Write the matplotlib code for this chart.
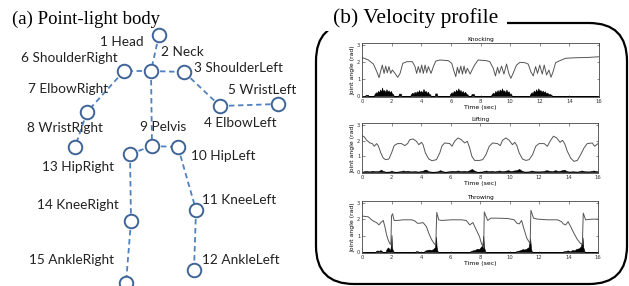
import matplotlib.pyplot as plt
from matplotlib.patches import FancyBboxPatch, Rectangle

W, H = 629, 286

# skeleton joints (pixel coordinates of the diagram)
joint_names = ["1 Head", "2 Neck", "3 ShoulderLeft", "4 ElbowLeft", "5 WristLeft",
               "6 ShoulderRight", "7 ElbowRight", "8 WristRight", "9 Pelvis",
               "10 HipLeft", "11 KneeLeft", "12 AnkleLeft", "13 HipRight",
               "14 KneeRight", "15 AnkleRight"]
joint_x = [159, 151, 184, 220, 278, 124, 87, 75, 152, 178, 196, 194, 130, 131, 126]
joint_y = [35, 71, 72, 106, 104, 71, 112, 147, 146, 147, 210, 270, 154, 221, 283]
bones = [(0, 1), (1, 5), (1, 2), (2, 3), (3, 4), (5, 6), (6, 7), (1, 8),
         (8, 9), (8, 12), (12, 13), (13, 14), (9, 10), (10, 11)]
label_x = [100, 161, 194, 204, 228, 21, 28, 27, 140, 191, 202, 202, 42, 37, 29]
label_y = [42, 52, 68, 123, 90, 58, 89, 128, 127, 156, 200, 260, 167, 205, 260]

# Knocking
knock_t = [0, 0.43, 0.77, 1.0, 1.15, 1.28, 1.37, 1.49, 1.6, 1.71, 1.82, 1.94, 2.05,
           2.23, 2.41, 2.57, 2.75, 3.02, 3.4, 3.58, 3.69, 3.8, 3.92, 4.03, 4.14,
           4.26, 4.37, 4.48, 4.66, 4.82, 4.98, 5.27, 5.83, 6.06, 6.22, 6.33, 6.44,
           6.55, 6.67, 6.78, 6.89, 7.0, 7.11, 7.3, 7.45, 7.6, 7.84, 8.4, 8.63,
           8.86, 9.01, 9.15, 9.26, 9.42, 9.58, 9.76, 9.91, 10.05, 10.2, 10.43,
           10.66, 11.0, 11.22, 11.4, 11.56, 11.72, 11.85, 12.0, 12.17, 12.3,
           12.46, 12.62, 12.76, 12.9, 13.07, 13.36, 13.74, 14.37, 15.27, 16.0]
knock_angle = [2.27, 2.12, 1.88, 1.43, 1.08, 1.53, 1.82, 1.33, 1.76, 1.37, 1.73,
               1.33, 1.53, 1.33, 1.1, 1.33, 1.92, 2.02, 2.02, 1.73, 1.33, 1.73,
               1.37, 1.82, 1.33, 1.82, 1.37, 1.73, 1.33, 1.73, 2.06, 2.12, 2.08,
               1.92, 1.43, 1.14, 1.69, 1.33, 1.76, 1.29, 1.76, 1.33, 1.63, 1.29,
               1.57, 1.82, 2.12, 2.08, 2.02, 1.63, 1.18, 1.69, 1.33, 1.76, 1.29,
               1.88, 1.33, 1.04, 1.33, 1.82, 1.98, 1.96, 1.88, 1.43, 1.18, 1.73,
               1.33, 1.82, 1.29, 1.82, 1.24, 1.53, 1.1, 1.43, 1.96, 2.08, 2.22,
               2.25, 2.27, 2.31]
knock_vt = [0, 0.2, 0.25, 0.4, 0.45, 0.8, 0.85, 0.95, 1.0, 1.08, 1.15, 1.22, 1.3,
            1.35, 1.42, 1.5, 1.58, 1.65, 1.72, 1.8, 1.88, 1.95, 2.02, 2.1, 2.15,
            2.45, 2.5, 2.62, 2.67, 3.25, 3.3, 3.4, 3.48, 3.55, 3.62, 3.7, 3.78,
            3.85, 3.92, 4.0, 4.08, 4.15, 4.22, 4.3, 4.38, 4.45, 4.52, 4.6, 4.65,
            4.9, 4.95, 5.05, 5.1, 5.9, 5.95, 6.05, 6.12, 6.2, 6.28, 6.35, 6.42,
            6.5, 6.58, 6.65, 6.72, 6.8, 6.88, 6.95, 7.05, 7.12, 7.18, 7.35, 7.4,
            7.55, 7.6, 8.7, 8.75, 8.85, 8.92, 9.0, 9.08, 9.15, 9.22, 9.3, 9.38,
            9.45, 9.52, 9.6, 9.68, 9.75, 9.82, 9.9, 9.98, 10.05, 10.12, 11.3,
            11.35, 11.45, 11.52, 11.6, 11.68, 11.75, 11.82, 11.9, 11.98, 12.05,
            12.12, 12.2, 12.28, 12.35, 12.42, 12.5, 12.6, 12.7, 12.8, 12.85, 16.0]
knock_vel = [0, 0, 0.07, 0.07, 0, 0, 0.12, 0.22, 0.15, 0.3, 0.2, 0.38, 0.25, 0.5,
             0.28, 0.35, 0.22, 0.4, 0.25, 0.33, 0.2, 0.3, 0.15, 0.1, 0, 0, 0.14,
             0.14, 0, 0, 0.1, 0.2, 0.12, 0.25, 0.15, 0.28, 0.2, 0.35, 0.22, 0.3,
             0.2, 0.42, 0.25, 0.3, 0.18, 0.25, 0.12, 0.1, 0, 0, 0.15, 0.15, 0, 0,
             0.12, 0.22, 0.15, 0.3, 0.2, 0.38, 0.25, 0.45, 0.28, 0.35, 0.2, 0.3,
             0.15, 0.25, 0.12, 0.1, 0, 0, 0.12, 0.12, 0, 0, 0.1, 0.2, 0.12, 0.3,
             0.2, 0.35, 0.22, 0.38, 0.25, 0.45, 0.28, 0.33, 0.2, 0.38, 0.22, 0.28,
             0.12, 0.15, 0, 0, 0.1, 0.22, 0.15, 0.32, 0.2, 0.4, 0.25, 0.45, 0.3,
             0.35, 0.22, 0.32, 0.2, 0.28, 0.15, 0.2, 0.1, 0.12, 0.05, 0, 0]

# Lifting
lift_t = [0, 0.16, 0.32, 0.54, 0.7, 0.83, 0.99, 1.1, 1.28, 1.44, 1.6, 1.82, 2.0,
          2.18, 2.41, 2.68, 2.9, 3.09, 3.24, 3.47, 3.69, 3.85, 4.03, 4.14, 4.3,
          4.53, 4.75, 5.05, 5.27, 5.43, 5.61, 5.95, 6.1, 6.28, 6.51, 6.73, 6.96,
          7.14, 7.3, 7.45, 7.64, 7.97, 8.18, 8.4, 8.63, 8.86, 9.19, 9.37, 9.53,
          9.76, 9.98, 10.2, 10.36, 10.5, 10.66, 10.88, 11.11, 11.33, 11.56, 11.78,
          12.0, 12.35, 12.57, 12.75, 12.98, 13.2, 13.43, 13.59, 13.74, 13.92,
          14.15, 14.37, 14.6, 14.82, 15.05, 15.27, 15.61, 15.77, 16.0]
lift_angle = [2.32, 2.23, 2.02, 1.85, 1.81, 1.64, 1.81, 1.68, 1.21, 0.89, 0.79,
              0.83, 1.21, 1.68, 1.81, 1.81, 1.68, 1.81, 2.06, 2.1, 1.96, 1.74,
              1.89, 1.74, 1.21, 0.83, 0.72, 0.79, 1.21, 1.68, 1.85, 1.81, 1.64,
              1.96, 2.17, 2.06, 1.85, 1.96, 1.53, 1.0, 0.74, 0.74, 0.79, 1.1, 1.64,
              1.85, 1.81, 1.68, 2.02, 2.17, 2.02, 1.74, 1.89, 1.68, 1.21, 0.83,
              0.74, 0.79, 1.1, 1.64, 1.81, 1.81, 1.64, 1.96, 2.28, 2.17, 1.89,
              2.02, 1.81, 1.32, 0.89, 0.68, 0.74, 1.1, 1.53, 1.81, 1.85, 1.64, 1.81]
lift_vt = [0, 0.1, 0.3, 0.5, 0.7, 0.9, 1.1, 1.3, 1.4, 1.6, 1.9, 2.0, 2.1, 2.3, 2.6,
           2.8, 2.9, 3.1, 3.3, 3.6, 3.8, 4.1, 4.3, 4.4, 4.5, 4.8, 5.1, 5.3, 5.4,
           5.6, 5.9, 6.1, 6.3, 6.5, 6.7, 6.9, 7.1, 7.3, 7.45, 7.6, 7.8, 8.1, 8.4,
           8.6, 8.8, 9.0, 9.3, 9.5, 9.7, 9.9, 10.1, 10.3, 10.5, 10.65, 10.8, 11.0,
           11.3, 11.5, 11.7, 12.0, 12.3, 12.5, 12.7, 12.9, 13.1, 13.3, 13.5, 13.7,
           13.85, 14.0, 14.3, 14.6, 14.9, 15.1, 15.4, 15.7, 15.9, 16.0]
lift_vel = [0, 0.05, 0.07, 0.04, 0.08, 0.05, 0.06, 0.15, 0.08, 0.02, 0.04, 0.1,
            0.04, 0.02, 0.05, 0.1, 0.06, 0.08, 0.04, 0.06, 0.03, 0.08, 0.16, 0.12,
            0.05, 0.02, 0.04, 0.12, 0.08, 0.02, 0.05, 0.08, 0.06, 0.1, 0.05, 0.08,
            0.05, 0.12, 0.2, 0.1, 0.02, 0.03, 0.1, 0.05, 0.08, 0.04, 0.1, 0.05,
            0.08, 0.12, 0.06, 0.1, 0.12, 0.2, 0.1, 0.03, 0.04, 0.1, 0.05, 0.04,
            0.06, 0.12, 0.08, 0.05, 0.12, 0.06, 0.1, 0.15, 0.08, 0.03, 0.05, 0.03,
            0.1, 0.05, 0.04, 0.1, 0.06, 0.03]

# Throwing
throw_t = [0, 0.43, 0.65, 0.83, 0.99, 1.15, 1.28, 1.44, 1.55, 1.67, 1.78, 1.89,
           1.96, 2.0, 2.07, 2.18, 2.41, 2.79, 3.36, 3.58, 3.76, 3.92, 4.14, 4.37,
           4.53, 4.71, 4.89, 5.0, 5.07, 5.2, 5.38, 6.06, 6.73, 7.07, 7.3, 7.52,
           7.75, 7.97, 8.1, 8.25, 8.29, 8.52, 8.74, 9.19, 9.87, 10.32, 10.5,
           10.66, 10.82, 11.0, 11.18, 11.33, 11.4, 11.45, 11.63, 11.9, 12.57,
           13.25, 13.52, 13.65, 13.81, 13.97, 14.15, 14.37, 14.6, 14.82, 14.94,
           15.0, 15.16, 15.61, 16.0]
throw_angle = [2.2, 2.15, 1.97, 1.86, 1.8, 1.66, 1.8, 1.93, 1.55, 1.04, 0.72,
               0.52, 0.46, 2.2, 2.34, 1.93, 1.93, 1.97, 1.97, 1.9, 1.76, 1.76,
               1.8, 1.55, 1.14, 0.77, 0.52, 0.41, 2.42, 1.97, 1.93, 1.97, 1.97,
               1.93, 1.66, 1.8, 1.35, 0.93, 0.52, 0.25, 2.45, 1.93, 2.07, 2.07,
               2.05, 1.97, 1.76, 1.72, 1.93, 1.35, 0.83, 0.62, 0.52, 2.55, 2.07,
               2.01, 1.97, 1.97, 1.86, 1.72, 1.66, 1.86, 1.55, 1.14, 0.77, 0.52,
               0.46, 2.38, 1.97, 2.01, 2.01]
throw_vt = [0, 0.9, 0.95, 1.05, 1.15, 1.25, 1.35, 1.4, 1.6, 1.65, 1.75, 1.85,
            1.92, 1.97, 2.0, 2.03, 2.07, 2.12, 2.2, 3.6, 3.65, 3.8, 3.9, 4.2,
            4.25, 4.4, 4.55, 4.7, 4.85, 4.95, 5.02, 5.06, 5.12, 5.2, 7.3, 7.35,
            7.5, 7.65, 7.8, 7.95, 8.05, 8.15, 8.22, 8.27, 8.35, 8.4, 10.4, 10.45,
            10.6, 10.75, 10.9, 11.0, 11.15, 11.3, 11.4, 11.45, 11.5, 11.6, 13.6,
            13.65, 13.8, 13.95, 14.1, 14.25, 14.4, 14.55, 14.7, 14.85, 14.95,
            15.0, 15.08, 15.15, 16.0]
throw_vel = [0, 0, 0.06, 0.1, 0.06, 0.12, 0.05, 0, 0, 0.15, 0.28, 0.2, 0.1, 0.5,
             1.05, 0.3, 0.15, 0.05, 0, 0, 0.05, 0.04, 0, 0, 0.08, 0.12, 0.15,
             0.12, 0.2, 0.3, 0.95, 0.3, 0.05, 0, 0, 0.05, 0.1, 0.12, 0.2, 0.18,
             0.3, 0.4, 1.0, 0.3, 0.05, 0, 0, 0.05, 0.08, 0.12, 0.18, 0.15, 0.2,
             0.3, 0.85, 0.3, 0.05, 0, 0, 0.04, 0.06, 0.1, 0.04, 0.12, 0.1, 0.2,
             0.22, 0.35, 0.9, 0.3, 0.05, 0, 0]

panels = [
    ("Knocking", knock_t, knock_angle, knock_vt, knock_vel, (362, 43, 599, 97)),
    ("Lifting", lift_t, lift_angle, lift_vt, lift_vel, (362, 123, 598, 173)),
    ("Throwing", throw_t, throw_angle, throw_vt, throw_vel, (362, 201, 598, 253)),
]


def px_axes(fig, left, top, right, bottom):
    return fig.add_axes([left / W, 1 - bottom / H, (right - left) / W, (bottom - top) / H])


fig = plt.figure(figsize=(W / 100, H / 100), dpi=100)

base = px_axes(fig, 0, 0, W, H)
base.set_xlim(0, W)
base.set_ylim(H, 0)
base.axis("off")

# (a) skeleton
base.text(12, 19, "(a) Point-light body", family="Liberation Serif", fontsize=13.5,
          ha="left", va="center")
for i, j in bones:
    base.plot([joint_x[i], joint_x[j]], [joint_y[i], joint_y[j]], color="#4f81bd",
              lw=1.3, ls=(0, (3, 2)), zorder=1)
base.scatter(joint_x, joint_y, s=95, facecolor="white", edgecolor="#3f6497",
             linewidths=1.4, zorder=2, clip_on=False)
for name, lx, ly in zip(joint_names, label_x, label_y):
    base.text(lx, ly, name, family="Lato", fontsize=9.8, ha="left", va="center",
              color="#222222", zorder=3)

# (b) rounded frame and title
frame = FancyBboxPatch((316, 23), 311, 261, boxstyle="round,pad=0,rounding_size=38",
                       fill=False, lw=1.6, ec="black", zorder=1)
base.add_patch(frame)
base.add_patch(Rectangle((310, 0), 197, 31, facecolor="white", edgecolor="none", zorder=2))
base.text(333, 18, "(b) Velocity profile", family="Liberation Serif", fontsize=15.5,
          ha="left", va="center", zorder=3)

for title, t, angle, vt, vel, box in panels:
    ax = px_axes(fig, *box)
    ax.plot(t, angle, color="#555555", lw=0.7)
    ax.fill_between(vt, 0, vel, color="black", lw=0.4)
    ax.set_xlim(0, 16)
    ax.set_ylim(-0.06, 3.12)
    ax.set_xticks(range(0, 17, 2))
    ax.set_yticks([0, 1, 2, 3])
    ax.tick_params(direction="in", length=1.8, width=0.4, labelsize=3.8, pad=1.2,
                   top=True, right=True, colors="#333333")
    for sp in ax.spines.values():
        sp.set_linewidth(0.6)
        sp.set_color("#444444")
    ax.set_title(title, fontsize=4.2, pad=1.5)
    ax.set_xlabel("Time (sec)", fontsize=4.4, labelpad=1)
    ax.set_ylabel("Joint angle (rad)", fontsize=4.4, labelpad=1)

fig.savefig("out.png", dpi=100)
